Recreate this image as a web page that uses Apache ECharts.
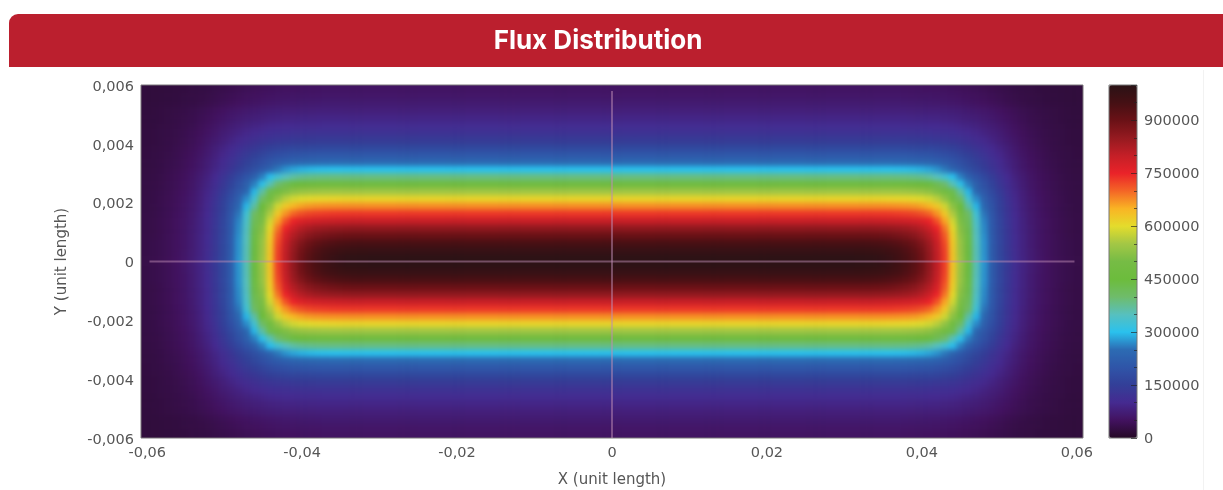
<!DOCTYPE html>
<html><head><meta charset="utf-8">
<style>
html,body{margin:0;padding:0;background:#fff;overflow:hidden}
#page{position:relative;width:1223px;height:490px;overflow:hidden}
#clip{position:absolute;left:141px;top:85px;width:942px;height:353px;overflow:hidden;background:#2e1230}
#heat{position:absolute;filter:blur(2.6px)}
#c{position:absolute;left:0;top:0;width:1223px;height:490px;filter:blur(.45px)}
</style>
<script src="https://cdn.jsdelivr.net/npm/echarts@6/dist/echarts.min.js"></script>
</head><body><div id="page"><div id="clip"><div id="heat"></div></div><div id="c"></div></div>
<script>
// Flux in thousands, quadrant x>0,y>0. Rows go from y=0 outward; columns from x=0 outward.
const row00=[995,995,995,995,995,995,995,995,995,995,995,995,995,995,995,995,995,995,995,995,995,995,995,995,995,995,995,995,995,995,995,993,991,988,983,975,962,945,925,895,855,805,730,630,540,445,355,275,215,170,135,107,87,71,59,50,43,38,34,31];
const row01=[975,975,975,975,975,975,975,975,975,975,975,975,975,975,975,975,975,975,975,975,975,975,975,975,975,975,975,975,975,975,975,974,972,970,966,960,950,935,915,888,850,802,728,628,538,444,354,274,214,169,134,106,86,70,58,49,42,37,33,30];
const row02=[945,945,945,945,945,945,945,945,945,945,945,945,945,945,945,945,945,945,945,945,945,945,945,945,945,945,945,945,945,945,945,945,944,942,939,934,926,914,897,873,840,795,722,625,535,442,352,273,213,168,133,105,85,69,57,49,42,37,33,30];
const row03=[900,900,900,900,900,900,900,900,900,900,900,900,900,900,900,900,900,900,900,900,900,900,900,900,900,900,900,900,900,900,900,900,899,898,896,892,886,877,864,845,818,778,710,618,528,438,350,271,211,167,132,104,85,69,57,48,42,36,32,30];
const row04=[855,855,855,855,855,855,855,855,855,855,855,855,855,855,855,855,855,855,855,855,855,855,855,855,855,855,855,855,855,855,855,855,855,854,852,850,846,840,830,815,790,750,690,605,518,430,345,268,209,165,131,103,84,68,56,48,41,36,32,29];
const row05=[795,795,795,795,795,795,795,795,795,795,795,795,795,795,795,795,795,795,795,795,795,795,795,795,795,795,795,795,795,795,795,795,795,795,794,792,789,785,778,768,750,715,660,585,505,420,338,264,206,163,129,102,83,67,56,48,41,36,32,29];
const row06=[735,735,735,735,735,735,735,735,735,735,735,735,735,735,735,735,735,735,735,735,735,735,735,735,735,735,735,735,735,735,735,735,735,735,735,734,732,729,724,716,700,670,625,558,485,405,325,256,202,160,127,100,82,66,55,47,40,35,31,29];
const row07=[675,675,675,675,675,675,675,675,675,675,675,675,675,675,675,675,675,675,675,675,675,675,675,675,675,675,675,675,675,675,675,675,675,675,675,674,673,671,667,660,648,625,585,525,450,365,294,242,195,155,124,98,80,65,54,46,40,35,31,28];
const row08=[610,610,610,610,610,610,610,610,610,610,610,610,610,610,610,610,610,610,610,610,610,610,610,610,610,610,610,610,610,610,610,610,610,610,610,609,608,606,603,597,587,568,532,475,405,330,270,224,184,150,120,95,78,63,53,45,39,34,30,28];
const row09=[545,545,545,545,545,545,545,545,545,545,545,545,545,545,545,545,545,545,545,545,545,545,545,545,545,545,545,545,545,545,545,545,545,545,545,545,544,543,541,537,528,510,480,430,365,294,242,206,172,141,115,92,75,61,51,44,38,33,30,27];
const row10=[470,470,470,470,470,470,470,470,470,470,470,470,470,470,470,470,470,470,470,470,470,470,470,470,470,470,470,470,470,470,470,470,470,470,470,470,469,468,465,458,445,425,398,355,305,262,224,190,158,131,107,87,71,58,49,42,37,32,29,27];
const row11=[385,385,385,385,385,385,385,385,385,385,385,385,385,385,385,385,385,385,385,385,385,385,385,385,385,385,385,385,385,385,385,385,385,385,385,385,384,383,380,375,366,350,328,298,262,228,198,171,145,121,100,82,68,56,47,41,36,31,28,26];
const row12=[300,300,300,300,300,300,300,300,300,300,300,300,300,300,300,300,300,300,300,300,300,300,300,300,300,300,300,300,300,300,300,300,300,300,300,300,299,298,296,292,285,274,258,236,212,189,168,148,127,109,91,76,63,53,45,39,34,30,27,25];
const row13=[245,245,245,245,245,245,245,245,245,245,245,245,245,245,245,245,245,245,245,245,245,245,245,245,245,245,245,245,245,245,245,245,245,245,245,245,244,243,242,239,234,226,215,202,186,170,153,136,118,102,86,72,60,50,43,37,33,29,26,25];
const row14=[205,205,205,205,205,205,205,205,205,205,205,205,205,205,205,205,205,205,205,205,205,205,205,205,205,205,205,205,205,205,205,205,205,205,205,205,204,204,203,201,198,192,185,175,163,151,137,123,108,94,80,67,56,47,41,35,31,28,26,24];
const row15=[170,170,170,170,170,170,170,170,170,170,170,170,170,170,170,170,170,170,170,170,170,170,170,170,170,170,170,170,170,170,170,170,170,170,170,170,170,169,168,167,165,161,156,149,141,132,121,110,98,86,74,63,53,45,39,34,30,27,25,24];
const row16=[140,140,140,140,140,140,140,140,140,140,140,140,140,140,140,140,140,140,140,140,140,140,140,140,140,140,140,140,140,140,140,140,140,140,140,140,140,140,139,138,136,134,131,127,121,114,106,97,87,77,67,58,49,42,37,32,29,26,24,23];
const row17=[120,120,120,120,120,120,120,120,120,120,120,120,120,120,120,120,120,120,120,120,120,120,120,120,120,120,120,120,120,120,120,120,120,120,120,120,120,119,119,118,117,115,113,110,105,100,94,86,78,70,61,53,46,40,35,31,28,26,24,23];
const row18=[104,104,104,104,104,104,104,104,104,104,104,104,104,104,104,104,104,104,104,104,104,104,104,104,104,104,104,104,104,104,104,104,104,104,104,104,104,103,103,102,101,100,98,96,92,88,83,77,70,63,56,49,43,37,33,30,27,25,23,22];
const row19=[90,90,90,90,90,90,90,90,90,90,90,90,90,90,90,90,90,90,90,90,90,90,90,90,90,90,90,90,90,90,90,90,90,90,90,90,90,90,89,89,88,87,85,83,80,77,73,68,63,57,51,45,40,35,32,29,26,24,23,22];
const row20=[78,78,78,78,78,78,78,78,78,78,78,78,78,78,78,78,78,78,78,78,78,78,78,78,78,78,78,78,78,78,78,78,78,78,78,78,78,78,77,77,76,75,74,72,70,67,64,60,56,51,46,41,37,33,30,27,25,24,22,21];
const row21=[68,68,68,68,68,68,68,68,68,68,68,68,68,68,68,68,68,68,68,68,68,68,68,68,68,68,68,68,68,68,68,68,68,68,68,68,68,67,67,66,65,64,63,61,59,56,53,50,46,42,38,34,31,28,26,24,23,22,21,21];
const row22=[60,60,60,60,60,60,60,60,60,60,60,60,60,60,60,60,60,60,60,60,60,60,60,60,60,60,60,60,60,60,60,60,60,60,60,60,60,59,59,58,58,57,56,54,52,50,48,45,41,38,34,31,29,27,25,23,22,21,20,20];
const row23=[54,54,54,54,54,54,54,54,54,54,54,54,54,54,54,54,54,54,54,54,54,54,54,54,54,54,54,54,54,54,54,54,54,54,54,54,54,53,53,52,51,50,49,47,46,44,42,39,36,33,31,28,26,25,23,22,21,20,20,20];
const quadrant=[row00,row01,row02,row03,row04,row05,row06,row07,row08,row09,row10,row11,row12,row13,row14,row15,row16,row17,row18,row19,row20,row21,row22,row23];

const xTicks=[-0.06,-0.04,-0.02,0,0.02,0.04,0.06];
const yTicks=[-0.006,-0.004,-0.002,0,0.002,0.004,0.006];
const crossH=[[-0.0597,0],[0.0597,0]];
const crossV=[[0,-0.006],[0,0.0058]];
const ramp=['#250926','#42125f','#452a90','#333f98','#2f55a8','#2c6bb3','#2ac1ee','#57c0be','#6fbc6a','#6cbc3c','#76bc45','#a3c745','#e4dc2c','#f9b424','#f46526','#ea2329','#c41f27','#951a20','#6a1116','#451014','#2a1215'];

const nCols=quadrant[0].length, nRows=quadrant.length;
const pad=2;                         // edge cells repeated outside the clipped plot so the soft edge stays hidden
const plotW=942, plotH=353;
const cw=plotW/(nCols*2), ch=plotH/(nRows*2);
const heatEl=document.getElementById('heat');
heatEl.style.left=(-pad*cw)+'px';heatEl.style.top=(-pad*ch)+'px';
heatEl.style.width=(plotW+2*pad*cw)+'px';heatEl.style.height=(plotH+2*pad*ch)+'px';

const xCats=[],yCats=[],cells=[];
for(let i=-pad;i<nCols*2+pad;i++)xCats.push(String(i));
for(let j=-pad;j<nRows*2+pad;j++)yCats.push(String(j));
for(let j=-pad;j<nRows*2+pad;j++){
  const jj=Math.max(0,Math.min(nRows*2-1,j));
  const r=quadrant[jj<nRows?nRows-1-jj:jj-nRows];
  for(let i=-pad;i<nCols*2+pad;i++){
    const ii=Math.max(0,Math.min(nCols*2-1,i));
    cells.push([i+pad,j+pad,r[ii<nCols?nCols-1-ii:ii-nCols]*1000]);
  }
}
const heat=echarts.init(heatEl,null,{renderer:'canvas'});
heat.setOption({
  animation:false,
  grid:{left:0,top:0,right:0,bottom:0,outerBoundsMode:'none'},
  xAxis:{type:'category',data:xCats,show:false},
  yAxis:{type:'category',data:yCats,show:false},
  visualMap:{type:'continuous',show:false,min:0,max:1000000,seriesIndex:0,inRange:{color:ramp}},
  series:[{type:'heatmap',name:'Flux',data:cells,progressive:0,silent:true,emphasis:{disabled:true},
    itemStyle:{borderWidth:0}}]
});

const comma=(v,d)=>v===0?'0':v.toFixed(d).replace('.',',');
const txt={fontFamily:'DejaVu Sans',fontSize:14.5,color:'#565656'};
const nameTxt={fontFamily:'DejaVu Sans',fontSize:15,color:'#565656'};
const chart=echarts.init(document.getElementById('c'),null,{renderer:'canvas'});
chart.setOption({
  animation:false,
  title:{text:'Flux Distribution',left:593,top:20,textAlign:'center',textStyle:{color:'#fff',fontFamily:'Inter',fontWeight:'bold',fontSize:26,lineHeight:32}},
  graphic:[
    {type:'rect',z:-10,shape:{x:9,y:14,width:1214,height:53,r:[9,0,0,0]},style:{fill:'#bb1f2e'}},
    {type:'rect',z:-10,shape:{x:1203,y:70,width:1,height:420},style:{fill:'#f2f2f2'}},
    {type:'rect',z:50,shape:{x:1109,y:85,width:28,height:353},style:{fill:'transparent',stroke:'#777',lineWidth:1}}
  ],
  grid:[
    {left:141,top:85,width:942,height:353,outerBoundsMode:'none',show:true,borderColor:'#7a767a',borderWidth:1,backgroundColor:'transparent'},
    {left:1109,top:85,width:28,height:353,outerBoundsMode:'none'}
  ],
  xAxis:[
    {gridIndex:0,type:'value',min:-0.0608,max:0.0608,
      name:'X (unit length)',nameLocation:'middle',nameGap:35,nameTextStyle:nameTxt,
      axisLine:{show:false},axisTick:{show:false},splitLine:{show:false},
      axisLabel:{...txt,margin:8,customValues:xTicks,formatter:v=>comma(v,2)}},
    {gridIndex:1,type:'value',show:false,min:0,max:1}
  ],
  yAxis:[
    {gridIndex:0,type:'value',min:-0.006,max:0.006,
      name:'Y (unit length)',nameLocation:'middle',nameGap:71,nameRotate:90,nameTextStyle:nameTxt,
      axisLine:{show:false},axisTick:{show:false},splitLine:{show:false},
      axisLabel:{margin:7,customValues:yTicks,formatter:v=>'{a|'+comma(v,3)+'}',rich:{a:{...txt,padding:[4,0,0,0]}}}},
    {gridIndex:1,type:'value',position:'right',min:0,max:1000000,interval:150000,z:60,
      axisLine:{show:false,onZero:false},splitLine:{show:false},
      axisTick:{show:true,inside:true,length:6,lineStyle:{color:'#222',opacity:.65}},
      minorTick:{show:true,splitNumber:3,length:3,lineStyle:{color:'#222',opacity:.65}},
      axisLabel:{margin:7,showMaxLabel:false,formatter:v=>'{a|'+v+'}',rich:{a:{...txt,padding:[2,0,0,0]}}}}
  ],
  visualMap:{type:'continuous',seriesIndex:2,min:0,max:1000000,calculable:false,show:true,
    left:1109,top:85,itemWidth:28,itemHeight:353,padding:0,text:null,showLabel:false,hoverLink:false,
    inRange:{color:ramp}},
  series:[
    {type:'line',name:'Centre X',xAxisIndex:0,yAxisIndex:0,data:crossH,symbol:'none',silent:true,z:5,lineStyle:{color:'rgba(190,140,180,0.5)',width:2}},
    {type:'line',name:'Centre Y',xAxisIndex:0,yAxisIndex:0,data:crossV,symbol:'none',silent:true,z:5,lineStyle:{color:'rgba(190,140,180,0.5)',width:2}},
    {type:'line',name:'Scale',xAxisIndex:1,yAxisIndex:1,data:[],silent:true}
  ]
});
</script></body></html>
